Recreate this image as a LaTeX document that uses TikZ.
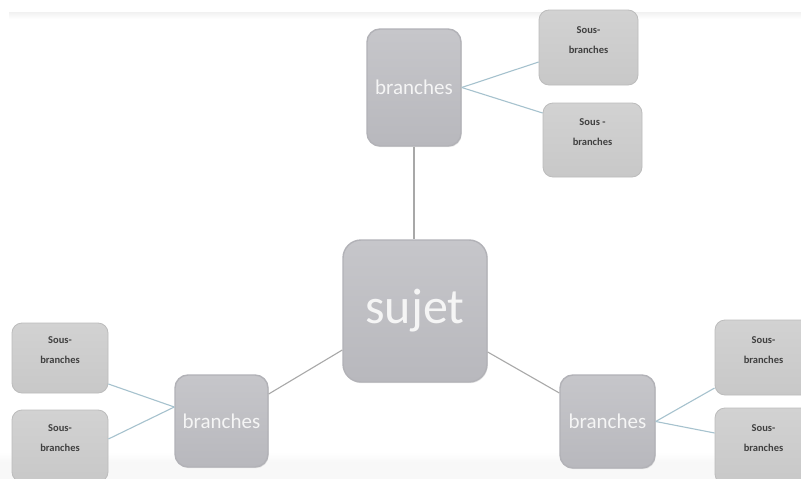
\documentclass[tikz,border=0pt]{standalone}
\usepackage{fontspec}
\setmainfont{Carlito}
\usetikzlibrary{shadows}
\definecolor{maintop}{HTML}{C6C6CA}
\definecolor{mainbot}{HTML}{B8B8BD}
\definecolor{mainedge}{HTML}{B2B2B7}
\definecolor{subtop}{HTML}{D2D2D2}
\definecolor{subbot}{HTML}{C8C8C8}
\definecolor{subedge}{HTML}{BCBCBC}
\definecolor{subtext}{HTML}{404040}
\definecolor{mainline}{HTML}{A8A8A8}
\definecolor{subline}{HTML}{A6C2CE}
\definecolor{strip}{HTML}{F1F1F1}
\definecolor{bottomstrip}{HTML}{F8F8F8}
\tikzset{
  mainbox/.style={draw=mainedge, line width=1.4pt, rounded corners=13pt,
    top color=maintop, bottom color=mainbot,
    drop shadow={shadow xshift=0.8pt, shadow yshift=-1.2pt, opacity=0.2},
    text=white!96!black, font=\fontsize{21}{24}\selectfont, inner sep=0pt},
  subbox/.style={draw=subedge, line width=0.8pt, rounded corners=10pt,
    top color=subtop, bottom color=subbot, inner sep=0pt},
  sbt/.style={text=subtext, font=\bfseries\fontsize{10.5}{20}\selectfont, align=center},
  mainconn/.style={draw=mainline, line width=1.1pt},
  subconn/.style={draw=subline, line width=1.1pt},
}
\begin{document}
\begin{tikzpicture}[x=1pt,y=-1pt]
\useasboundingbox (0,0) rectangle (801,479);
\clip (0,0) rectangle (801,479);
\fill[white] (0,0) rectangle (801,479);
\shade[top color=strip, bottom color=white] (9,12) rectangle (801,19);
\shade[top color=white, bottom color=bottomstrip] (0,452) rectangle (801,462);
\fill[bottomstrip] (0,462) rectangle (801,479);

% main boxes
\node[mainbox, minimum width=94pt, minimum height=117pt] (tb) at (414,87.5) {branches};
\node[mainbox, rounded corners=18pt, minimum width=144pt, minimum height=142pt,
      font=\fontsize{50}{56}\selectfont] (sujet) at (415,311) {sujet};
\node[mainbox, minimum width=93pt, minimum height=92pt] (lb) at (221.5,421) {branches};
\node[mainbox, minimum width=95pt, minimum height=93pt] (rb) at (607.5,421.5) {branches};

% sub boxes
\node[subbox, minimum width=99pt, minimum height=75pt,
      label={[sbt,yshift=7.5pt]center:{Sous-\\branches}}] (ts1) at (588.5,47.5) {};
\node[subbox, minimum width=99pt, minimum height=74pt,
      label={[sbt,yshift=7.5pt]center:{Sous -\\branches}}] (ts2) at (592.5,140) {};
\node[subbox, minimum width=96pt, minimum height=70pt,
      label={[sbt,yshift=7.5pt]center:{Sous-\\branches}}] (ls1) at (60,358) {};
\node[subbox, minimum width=96pt, minimum height=72pt,
      label={[sbt,yshift=7.5pt]center:{Sous-\\branches}}] (ls2) at (60,446) {};
\node[subbox, minimum width=97pt, minimum height=75pt,
      label={[sbt,yshift=7pt]center:{Sous-\\branches}}] (rs1) at (763.5,357.5) {};
\node[subbox, minimum width=97pt, minimum height=76pt,
      label={[sbt,yshift=8pt]center:{Sous-\\branches}}] (rs2) at (763.5,446) {};

% main connectors
\draw[mainconn] (tb.south) -- (tb.south |- sujet.north);
\draw[mainconn] ([yshift=-39pt]sujet.west) -- ([yshift=27pt]lb.east);
\draw[mainconn] ([yshift=-41pt]sujet.east) -- ([yshift=28.5pt]rb.west);

% sub connectors
\draw[subconn] (tb.east) -- ([yshift=-14.5pt]ts1.west);
\draw[subconn] (tb.east) -- ([yshift=27pt]ts2.west);
\draw[subconn] ([yshift=-26pt]ls1.east) -- ([yshift=14pt]lb.west);
\draw[subconn] ([yshift=7pt]ls2.east) -- ([yshift=14pt]lb.west);
\draw[subconn] (rb.east) -- ([yshift=-30.5pt]rs1.west);
\draw[subconn] (rb.east) -- ([yshift=13pt]rs2.west);
\end{tikzpicture}
\end{document}
